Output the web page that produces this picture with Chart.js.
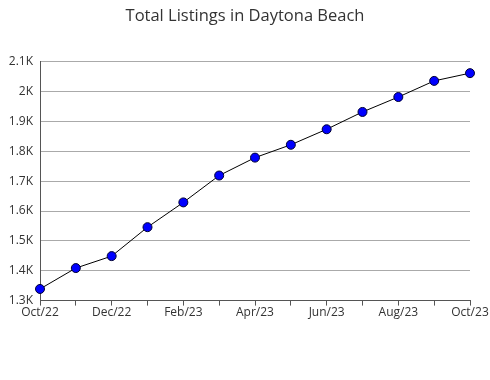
<!DOCTYPE html>
<html>
<head>
<meta charset="utf-8">
<script src="https://cdn.jsdelivr.net/npm/chart.js@4/dist/chart.umd.min.js"></script>
<style>
  html, body { margin: 0; padding: 0; background: #fff; }
  #wrap { width: 490px; height: 380px; }
</style>
</head>
<body>
<div id="wrap"><canvas id="myChart"></canvas></div>
<script>
// du lieu doc tu hinh
var thang = ['Oct/22', 'Nov/22', 'Dec/22', 'Jan/23', 'Feb/23', 'Mar/23', 'Apr/23',
             'May/23', 'Jun/23', 'Jul/23', 'Aug/23', 'Sep/23', 'Oct/23'];
var soListing = [1339, 1409, 1449, 1546, 1629, 1719, 1779, 1822, 1874, 1932, 1982, 2036, 2062];
var yMin = 1300;
var yMax = 2100;

function nhanK(v) {
    return (v / 1000) + 'K';
}

// ve vach nho (moi 50) ben trong truc y
var vachNho = {
    id: 'vachNho',
    afterDraw: function(chart) {
        var y = chart.scales.y;
        var ctx = chart.ctx;
        ctx.save();
        ctx.strokeStyle = '#555';
        ctx.lineWidth = 1;
        y.ticks.forEach(function(t) {
            if (t.value % 100 !== 0) {
                var py = Math.round(y.getPixelForValue(t.value)) + 0.5;
                ctx.beginPath();
                ctx.moveTo(chart.chartArea.left, py);
                ctx.lineTo(chart.chartArea.left + 5, py);
                ctx.stroke();
            }
        });
        ctx.restore();
    }
};

Chart.defaults.font.family = "'Open Sans', 'Noto Sans', sans-serif";

var chart = new Chart('myChart', {
    type: 'line',
    data: {
        labels: thang,
        datasets: [{
            label: 'Total Listings',
            data: soListing,
            borderColor: '#000',
            borderWidth: 1,
            backgroundColor: '#0000ff',
            pointBackgroundColor: '#0000ff',
            pointBorderColor: '#000033',
            pointBorderWidth: 1,
            pointRadius: 4.5,
            tension: 0
        }]
    },
    options: {
        responsive: true,
        maintainAspectRatio: false,
        animation: false,
        layout: { padding: { left: 0, right: 0, top: 0, bottom: 60 } },
        plugins: {
            legend: { display: false },
            tooltip: { enabled: false },
            title: {
                display: true,
                text: 'Total Listings in Daytona Beach',
                color: '#333',
                font: { size: 16.5, weight: 'normal' },
                padding: { top: 6, bottom: 36 }
            }
        },
        scales: {
            x: {
                offset: false,
                afterFit: function(s) { s.paddingRight = 20; },
                grid: { drawOnChartArea: false, color: '#555', tickLength: 5 },
                border: { color: '#555' },
                ticks: {
                    autoSkip: false,
                    maxRotation: 0,
                    color: '#333',
                    font: { size: 12 },
                    padding: 0,
                    callback: function(v, i) { return i % 2 === 0 ? thang[i] : ''; }
                }
            },
            y: {
                min: yMin,
                max: yMax,
                afterFit: function(s) { s.width = 40; },
                grid: {
                    color: function(c) { return c.tick && c.tick.value % 100 === 0 ? '#aaa' : 'rgba(0,0,0,0)'; },
                    drawTicks: false
                },
                border: { color: '#555' },
                ticks: {
                    stepSize: 50,
                    color: '#333',
                    font: { size: 12 },
                    padding: 7,
                    callback: function(v) { return v % 100 === 0 ? nhanK(v) : ''; }
                }
            }
        }
    },
    plugins: [vachNho]
});
</script>
</body>
</html>
